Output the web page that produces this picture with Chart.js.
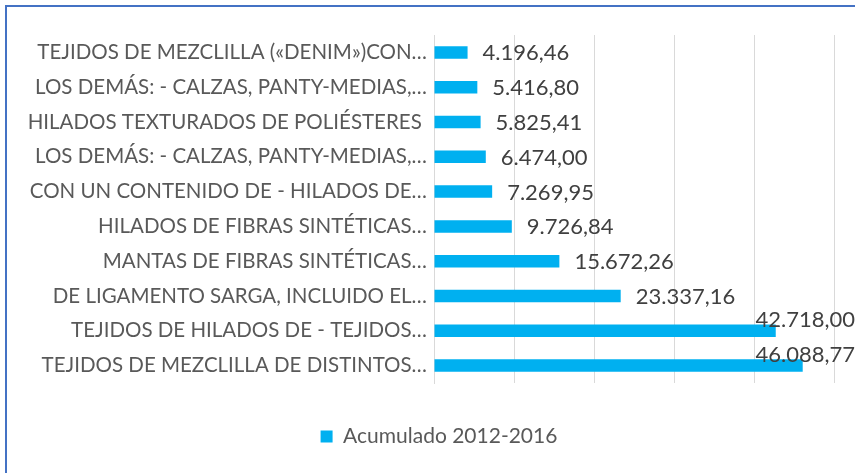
<!DOCTYPE html>
<html>
<head>
<meta charset="utf-8">
<script src="https://cdn.jsdelivr.net/npm/chart.js@4.4.0/dist/chart.umd.min.js"></script>
<style>
	html, body { margin: 0; padding: 0; background: #ffffff; }
	#wrap { position: relative; width: 855px; height: 473px; }
</style>
</head>
<body>
<div id="wrap"><canvas id="chart1" width="855" height="473"></canvas></div>
<script>
'use strict';
// Chart data
var categories = [
	'TEJIDOS DE MEZCLILLA («DENIM»)CON…',
	'LOS DEMÁS: - CALZAS, PANTY-MEDIAS,…',
	'HILADOS TEXTURADOS DE POLIÉSTERES ',
	'LOS DEMÁS: - CALZAS, PANTY-MEDIAS,…',
	'CON UN CONTENIDO DE - HILADOS DE…',
	'HILADOS DE FIBRAS SINTÉTICAS…',
	'MANTAS DE FIBRAS SINTÉTICAS…',
	'DE LIGAMENTO SARGA, INCLUIDO EL…',
	'TEJIDOS DE HILADOS DE - TEJIDOS…',
	'TEJIDOS DE MEZCLILLA DE DISTINTOS…'
];
var seriesName = 'Acumulado 2012-2016';
var acumulado = [4196.46, 5416.80, 5825.41, 6474.00, 7269.95, 9726.84, 15672.26, 23337.16, 42718.00, 46088.77];
var xTicks = [0, 10000, 20000, 30000, 40000, 50000];

var fontName = 'Lato, "Open Sans", sans-serif';

// 4196.46 -> 4.196,46
var formatNumber = function (v) {
	var parts = v.toFixed(2).split('.');
	var intPart = parts[0].replace(/\B(?=(\d{3})+(?!\d))/g, '.');
	return intPart + ',' + parts[1];
};

var frameBorder = {
	id: 'frameBorder',
	beforeDraw: function (chart) {
		var ctx = chart.ctx;
		ctx.save();
		ctx.fillStyle = '#ffffff';
		ctx.fillRect(0, 0, chart.width, chart.height);
		ctx.fillStyle = '#4472C4';
		ctx.fillRect(5, 5, chart.width - 5, 2);
		ctx.fillRect(5, 5, 2, chart.height - 5);
		ctx.restore();
	}
};

// the legend sits a bit right of the canvas centre, like the original
var legendShift = {
	id: 'legendShift',
	afterLayout: function (chart) {
		chart.legend.left += 22;
		chart.legend.right += 22;
	}
};

var valueLabels = {
	id: 'valueLabels',
	afterDatasetsDraw: function (chart) {
		var ctx = chart.ctx;
		var meta = chart.getDatasetMeta(0);
		ctx.save();
		ctx.font = '22px ' + fontName;
		ctx.fillStyle = '#404040';
		ctx.textBaseline = 'middle';
		ctx.textAlign = 'left';
		meta.data.forEach(function (bar, i) {
			var text = formatNumber(chart.data.datasets[0].data[i]);
			var w = ctx.measureText(text).width;
			var x = bar.x + 15;
			var y = bar.y + 1;
			// no room on the right: put it above the bar end
			if (x + w > chart.width) {
				x = chart.width - w;
				y = bar.y - 11;
			}
			ctx.fillText(text, x, y);
		});
		ctx.restore();
	}
};

var data = {
	labels: categories,
	datasets: [{
		label: seriesName,
		data: acumulado,
		backgroundColor: '#00B0F0',
		borderWidth: 0,
		barPercentage: 0.6,
		categoryPercentage: 0.6
	}]
};

var options = {
	indexAxis: 'y',
	responsive: false,
	animation: false,
	layout: {
		padding: { top: 35, right: 21, bottom: 16, left: 0 }
	},
	plugins: {
		legend: {
			display: true,
			position: 'bottom',
			labels: {
				boxWidth: 12,
				boxHeight: 12,
				padding: 10,
				color: '#595959',
				font: { family: fontName, size: 21 }
			}
		},
		tooltip: { enabled: false }
	},
	scales: {
		x: {
			min: 0,
			max: 50000,
			afterBuildTicks: function (scale) {
				scale.ticks = xTicks.map(function (v) { return { value: v }; });
			},
			afterFit: function (scale) {
				scale.height = 33;
			},
			ticks: { display: false },
			grid: { color: '#d9d9d9', lineWidth: 1, drawTicks: false },
			border: { display: false }
		},
		y: {
			afterFit: function (scale) {
				scale.width = 434;
			},
			ticks: {
				color: '#595959',
				padding: 7,
				autoSkip: false,
				font: { family: fontName, size: 20.5 }
			},
			grid: { display: false, drawTicks: false },
			border: { display: true, color: '#d9d9d9', width: 1 }
		}
	}
};

var ctx = document.getElementById('chart1').getContext('2d');
var myChart = new Chart(ctx, {
	type: 'bar',
	data: data,
	options: options,
	plugins: [frameBorder, legendShift, valueLabels]
});
</script>
</body>
</html>
